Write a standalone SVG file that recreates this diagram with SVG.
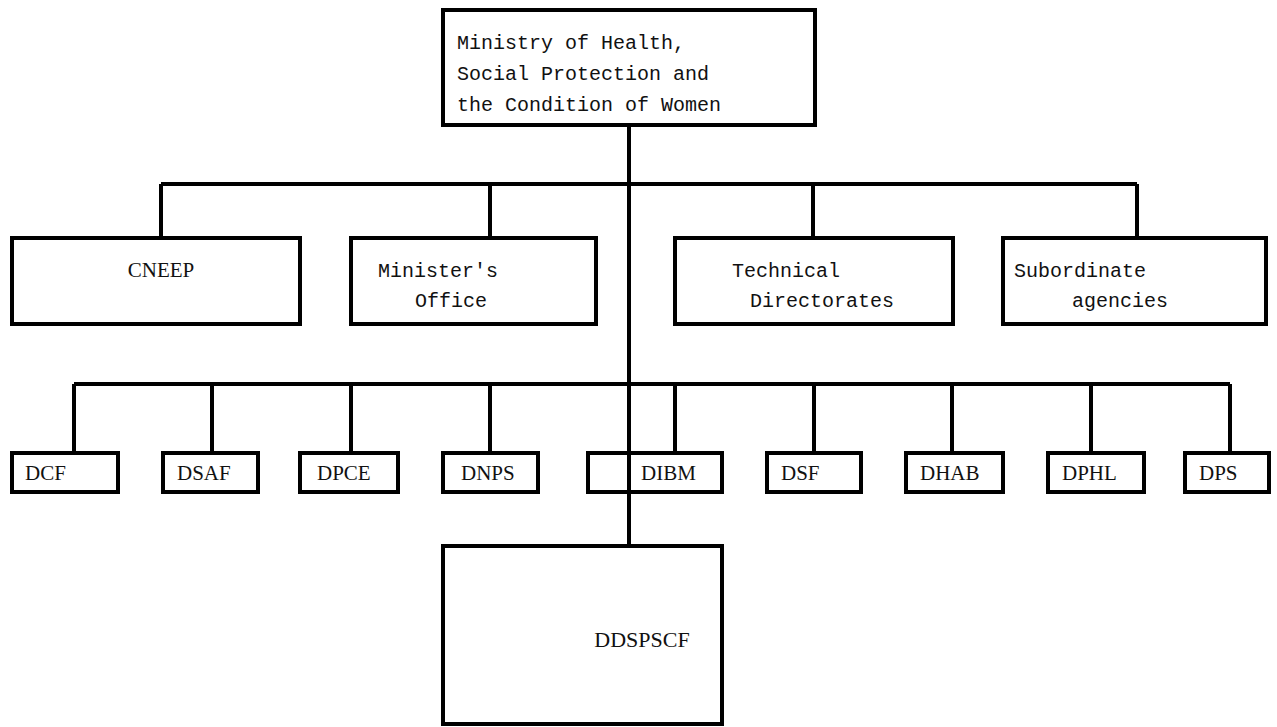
<svg xmlns="http://www.w3.org/2000/svg" width="1277" height="727" viewBox="0 0 1277 727">
<style>
.box{fill:#fff;stroke:#000;stroke-width:4}
.ln{fill:none;stroke:#000;stroke-width:4}
text{font-family:"Liberation Mono","Courier New",monospace;font-size:20px;fill:#111}
.s{font-family:"Liberation Serif","Times New Roman",serif;font-size:21px}
.m{text-anchor:middle}
</style>
<rect width="1277" height="727" fill="#fff"/>
<g id="connectors">
<path class="ln" d="M629 125V546"/>
<path class="ln" d="M161 184H1137M161 184V238M490 184V238M813 184V238M1137 184V238"/>
<path class="ln" d="M74 384H1230M74 384V453M212 384V453M351 384V453M490 384V453M675 384V453M814 384V453M952 384V453M1091 384V453M1230 384V453"/>
</g>
<g id="ministry"><rect class="box" x="443" y="10" width="372" height="115"/>
<text x="457" y="49">Ministry of Health,</text><text x="457" y="80">Social Protection and</text><text x="457" y="111">the Condition of Women</text></g>
<g id="cneep"><rect class="box" x="12" y="238" width="288" height="86"/><text class="s m" x="161" y="277">CNEEP</text></g>
<g id="ministers-office"><rect class="box" x="351" y="238" width="245" height="86"/><text class="m" x="438" y="277">Minister's</text><text class="m" x="451" y="307">Office</text></g>
<g id="technical-directorates"><rect class="box" x="675" y="238" width="278" height="86"/><text class="m" x="786" y="277">Technical</text><text class="m" x="822" y="307">Directorates</text></g>
<g id="subordinate-agencies"><rect class="box" x="1003" y="238" width="263" height="86"/><text class="m" x="1080" y="277">Subordinate</text><text class="m" x="1120" y="307">agencies</text></g>
<g id="dcf"><rect class="box" x="12" y="453" width="106" height="39"/><text class="s" x="25" y="480">DCF</text></g>
<g id="dsaf"><rect class="box" x="163" y="453" width="95" height="39"/><text class="s" x="177" y="480">DSAF</text></g>
<g id="dpce"><rect class="box" x="300" y="453" width="98" height="39"/><text class="s" x="317" y="480">DPCE</text></g>
<g id="dnps"><rect class="box" x="443" y="453" width="95" height="39"/><text class="s" x="461" y="480">DNPS</text></g>
<g id="dibm"><rect class="box" x="588" y="453" width="134" height="39"/><text class="s" x="641" y="480">DIBM</text></g>
<g id="dsf"><rect class="box" x="767" y="453" width="94" height="39"/><text class="s" x="781" y="480">DSF</text></g>
<g id="dhab"><rect class="box" x="906" y="453" width="97" height="39"/><text class="s" x="920" y="480">DHAB</text></g>
<g id="dphl"><rect class="box" x="1048" y="453" width="96" height="39"/><text class="s" x="1062" y="480">DPHL</text></g>
<g id="dps"><rect class="box" x="1185" y="453" width="84" height="39"/><text class="s" x="1199" y="480">DPS</text></g>
<path class="ln" d="M629 453V492"/>
<g id="ddspscf"><rect class="box" x="443" y="546" width="279" height="178"/><text class="s m" x="642" y="647" style="font-size:22px">DDSPSCF</text></g>
</svg>
